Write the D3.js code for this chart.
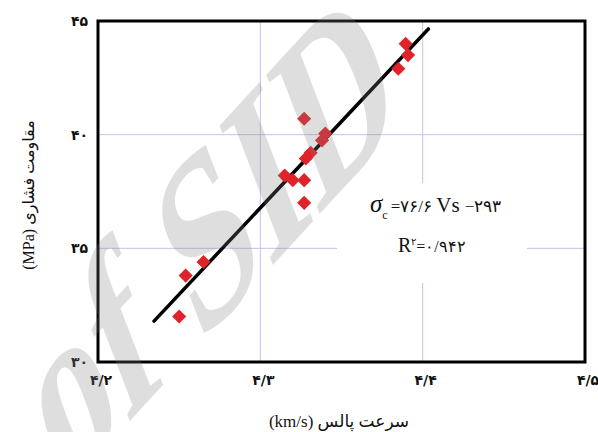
<!DOCTYPE html>
<html>
<head>
<meta charset="utf-8">
<script src="https://cdn.jsdelivr.net/npm/d3@7"></script>
<style>
  body { margin: 0; background: #fff; }
  svg { display: block; }
</style>
</head>
<body>
<div id="chart"></div>
<script>
// measured samples (pulse velocity km/s, compressive strength MPa)
const velocity = [4.250, 4.254, 4.265, 4.315, 4.320, 4.327, 4.327, 4.327, 4.328, 4.331, 4.338, 4.340, 4.385, 4.3895, 4.391];
const strength = [32.0, 33.8, 34.4, 38.2, 38.0, 38.0, 37.0, 40.7, 38.95, 39.2, 39.75, 40.05, 42.9, 44.0, 43.5];

// fitted line end points
const fitX = [4.2345, 4.4035];
const fitY = [31.8, 44.65];

const xTicks = [4.2, 4.3, 4.4, 4.5];
const yTicks = [30, 35, 40, 45];
const xGrid = [4.3, 4.4];
const yGrid = [35, 40];

const W = 598, H = 432;
const margin = { left: 98, right: 13, top: 21, bottom: 70 };

const faDigits = '۰۱۲۳۴۵۶۷۸۹';
const toFa = s => String(s).replace(/[0-9]/g, d => faDigits[d]).replace('.', '/');

const svg = d3.select('#chart').append('svg')
  .attr('width', W)
  .attr('height', H);

const x = d3.scaleLinear().domain([4.2, 4.5]).range([margin.left, W - margin.right]);
const y = d3.scaleLinear().domain([30, 45]).range([H - margin.bottom, margin.top]);

// grid
svg.append('g').selectAll('line')
  .data(xGrid).enter().append('line')
  .attr('x1', d => x(d)).attr('x2', d => x(d))
  .attr('y1', y(45)).attr('y2', y(30))
  .attr('stroke', '#c2c2ec').attr('stroke-width', 1);
svg.append('g').selectAll('line')
  .data(yGrid).enter().append('line')
  .attr('x1', x(4.2)).attr('x2', x(4.5))
  .attr('y1', d => y(d)).attr('y2', d => y(d))
  .attr('stroke', '#c2c2ec').attr('stroke-width', 1);

// equation box (hides grid behind it)
svg.append('rect')
  .attr('x', 337).attr('y', 183)
  .attr('width', 190).attr('height', 100)
  .attr('fill', '#fff');

const eq = svg.append('text')
  .attr('x', 370).attr('y', 212)
  .style('font-family', '"Liberation Serif", "DejaVu Serif", serif')
  .style('font-size', '19px')
  .attr('fill', '#111');
eq.append('tspan').style('font-style', 'italic').style('font-size', '25px').text('σ');
eq.append('tspan').attr('dy', 7).style('font-size', '12px').text('c');
eq.append('tspan').attr('dy', -7).attr('dx', 3).style('font-size', '17px').text('=۷۶/۶ ');
eq.append('tspan').style('font-size', '21px').text('Vs ');
eq.append('tspan').style('font-size', '17px').text('−۲۹۳');

const r2 = svg.append('text')
  .attr('x', 398).attr('y', 252)
  .style('font-family', '"Liberation Serif", "DejaVu Serif", serif')
  .style('font-size', '20px')
  .attr('fill', '#111');
r2.append('tspan').text('R');
r2.append('tspan').attr('dy', -7).style('font-size', '10px').text('۲');
r2.append('tspan').attr('dy', 7).style('font-size', '16px').text('=۰/۹۴۲');

// fit line
svg.append('line')
  .attr('x1', x(fitX[0])).attr('y1', y(fitY[0]))
  .attr('x2', x(fitX[1])).attr('y2', y(fitY[1]))
  .attr('stroke', '#000').attr('stroke-width', 3.5)
  .attr('stroke-linecap', 'round');

// points
const pts = velocity.map((v, i) => ({ v, s: strength[i] }));
svg.append('g').selectAll('path')
  .data(pts).enter().append('path')
  .attr('d', d3.symbol().type(d3.symbolSquare).size(100))
  .attr('transform', d => `translate(${x(d.v)},${y(d.s)}) rotate(45)`)
  .attr('fill', '#e0232a');

// frame
svg.append('rect')
  .attr('x', x(4.2)).attr('y', y(45))
  .attr('width', x(4.5) - x(4.2)).attr('height', y(30) - y(45))
  .attr('fill', 'none').attr('stroke', '#000').attr('stroke-width', 3);

// tick labels
svg.append('g').selectAll('text')
  .data(xTicks).enter().append('text')
  .attr('x', d => x(d) + 3).attr('y', y(30) + 23)
  .attr('text-anchor', 'middle')
  .style('font-family', '"DejaVu Sans", sans-serif')
  .style('font-size', '14px').style('font-weight', 'bold')
  .attr('fill', '#111')
  .text(d => toFa(d.toFixed(1)));
svg.append('g').selectAll('text')
  .data(yTicks).enter().append('text')
  .attr('x', x(4.2) - 10).attr('y', d => y(d) + 5)
  .attr('text-anchor', 'end')
  .style('font-family', '"DejaVu Sans", sans-serif')
  .style('font-size', '14px').style('font-weight', 'bold')
  .attr('fill', '#111')
  .text(d => toFa(d));

// axis titles
svg.append('text')
  .attr('x', 339).attr('y', 427)
  .attr('text-anchor', 'middle')
  .attr('direction', 'rtl')
  .style('font-family', '"Liberation Serif", "DejaVu Sans", serif')
  .style('font-size', '17px')
  .attr('fill', '#111')
  .text('سرعت پالس (km/s)');
svg.append('text')
  .attr('transform', 'translate(34,195) rotate(-90)')
  .attr('text-anchor', 'middle')
  .attr('direction', 'rtl')
  .style('font-family', '"Liberation Serif", "DejaVu Sans", serif')
  .style('font-size', '16px')
  .attr('fill', '#111')
  .text('مقاومت فشاری (MPa)');

// watermark
svg.append('text')
  .attr('transform', 'translate(64,493) rotate(-47.5) skewX(-26.5) scale(1,1.1)')
  .style('font-family', '"Liberation Serif", serif')
  .style('font-size', '185px')
  .style('font-weight', 'bold')
  .attr('fill', '#808080')
  .attr('fill-opacity', 0.26)
  .text('of SID');
</script>
</body>
</html>
